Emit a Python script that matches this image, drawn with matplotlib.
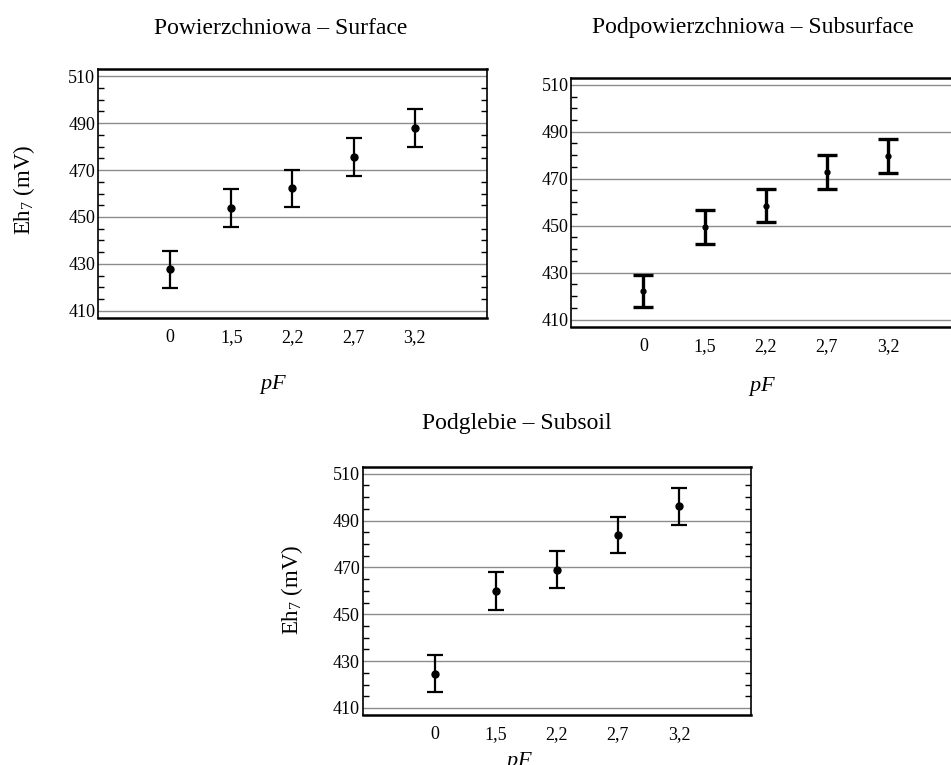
import numpy as np
import matplotlib
matplotlib.use("Agg")
import matplotlib.pyplot as plt
from matplotlib.ticker import MultipleLocator

plt.rcParams['font.family'] = ['Liberation Serif', 'DejaVu Serif']
plt.rcParams['mathtext.fontset'] = 'custom'
plt.rcParams['mathtext.rm'] = 'Liberation Serif'
plt.rcParams['mathtext.it'] = 'Liberation Serif:italic'

# pF categories and Eh7 means with error half-widths (mV)
pf_labels = ['0', '1,5', '2,2', '2,7', '3,2']
surface_mean = [427.7, 453.7, 462.2, 475.5, 487.9]
surface_err = [8.0, 8.1, 8.0, 8.0, 7.9]
subsurface_mean = [422.2, 449.5, 458.6, 472.7, 479.8]
subsurface_err = [7.0, 7.1, 7.1, 7.2, 7.3]
subsoil_mean = [424.6, 460.0, 468.9, 483.8, 496.1]
subsoil_err = [7.9, 8.0, 7.9, 7.8, 7.9]

titles = ['Powierzchniowa \u2013 Surface', 'Podpowierzchniowa \u2013 Subsurface',
          'Podglebie \u2013 Subsoil']
ylabel = 'Eh$_7$ (mV)'

fig = plt.figure(figsize=(9.51, 7.65), dpi=100)


def panel(rect, mean, err, thick=False):
    ax = fig.add_axes(rect)
    x = np.arange(len(pf_labels))
    if thick:
        ax.errorbar(x, mean, yerr=err, fmt='o', color='black', ms=3.5,
                    elinewidth=2.4, capsize=7, capthick=2.4, zorder=3)
    else:
        ax.errorbar(x, mean, yerr=err, fmt='o', color='black', ms=5,
                    elinewidth=1.6, capsize=5.5, capthick=1.6, zorder=3)
    ax.set_xlim(-1.18, 5.18)
    ax.set_ylim(407, 513)
    ax.set_xticks(x)
    ax.set_xticklabels(pf_labels)
    ax.yaxis.set_minor_locator(MultipleLocator(5))
    ax.set_yticks(np.arange(410, 511, 20))
    ax.grid(axis='y', color='#8c8c8c', lw=1.0)
    ax.tick_params(axis='x', length=0, pad=8, labelsize=13)
    ax.tick_params(axis='y', which='both', direction='in', left=True,
                   right=True, labelsize=13, pad=2)
    ax.tick_params(axis='y', which='major', length=0)
    ax.tick_params(axis='y', which='minor', length=4, width=1)
    for side in ['top', 'bottom']:
        ax.spines[side].set_linewidth(1.8)
    for side in ['left', 'right']:
        ax.spines[side].set_linewidth(1.2)
    return ax


ax1 = panel([0.1030, 0.5843, 0.409, 0.3255], surface_mean, surface_err)
ax2 = panel([0.6007, 0.5729, 0.409, 0.3255], subsurface_mean, subsurface_err, thick=True)
ax3 = panel([0.3814, 0.0654, 0.4083, 0.3246], subsoil_mean, subsoil_err)

fig.text(281 / 951, 1 - 28 / 765, titles[0], ha='center', va='center', fontsize=17)
fig.text(753 / 951, 1 - 27 / 765, titles[1], ha='center', va='center', fontsize=17)
fig.text(517 / 951, 1 - 423 / 765, titles[2], ha='center', va='center', fontsize=17)

fig.text(24 / 951, 1 - 190 / 765, ylabel, rotation=90, ha='center', va='center', fontsize=16.5)
fig.text(292 / 951, 1 - 590 / 765, ylabel, rotation=90, ha='center', va='center', fontsize=16.5)

fig.text(273 / 951, 1 - 384 / 765, '$pF$', ha='center', va='center', fontsize=16)
fig.text(762 / 951, 1 - 386 / 765, '$pF$', ha='center', va='center', fontsize=16)
fig.text(519 / 951, 1 - 750 / 765, '$pF$', ha='center', va='top', fontsize=16)

fig.savefig('out.png', dpi=100)
